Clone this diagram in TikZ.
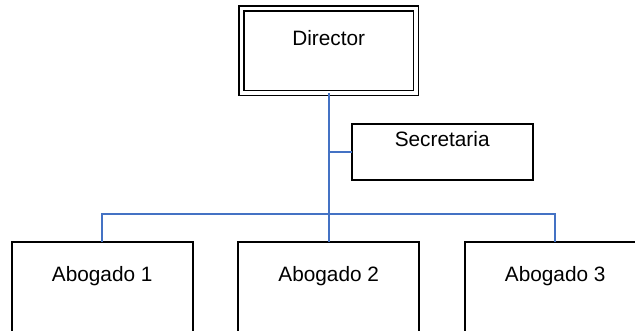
\documentclass[tikz,border=0pt]{standalone}
\usepackage{fontspec}
\setmainfont{Liberation Sans}
\usepackage{xcolor}
\usetikzlibrary{positioning,calc}

\definecolor{orgblue}{RGB}{68,114,196}

\begin{document}
\begin{tikzpicture}[x=0.75pt, y=-0.75pt,
  orgnode/.style = {shape=rectangle, draw, line width=1.2pt,
    inner sep=0pt, outer sep=0pt, align=center,
    font=\fontsize{15.6}{18}\selectfont, anchor=north},
  topnode/.style = {orgnode, line width=1.1pt, double, double distance=2.6pt,
    minimum width=131pt, text height=28pt, text depth=35.6pt},
  secnode/.style = {orgnode, minimum width=135.75pt,
    text height=16.5pt, text depth=25.5pt},
  lawnode/.style = {orgnode, minimum width=135.75pt,
    text height=29.5pt, text depth=44.25pt},
  line/.style={draw=orgblue, line width=1.5pt}
  ]
  \useasboundingbox (0,0) rectangle (635,330);
  \clip (0,0) rectangle (635,330);

  \node[topnode] (dir) at (328.7,8.4) {Director};
  \node[secnode] (sec) at (442.2,124) {Secretaria};
  \node[lawnode] (ab1) at (102.2,241.7) {Abogado 1};
  \node[lawnode] (ab2) at (328.7,241.7) {Abogado 2};
  \node[lawnode] (ab3) at (555.2,241.7) {Abogado 3};

  \coordinate (bus) at (328.7,213.7);

  % trunk, side branch and bus
  \draw[line] (dir.south) -- (ab2.north);
  \draw[line] (dir.south |- sec.west) -- (sec.west);
  \draw[line] (ab1.north) |- (bus) -| (ab3.north);
\end{tikzpicture}
\end{document}
